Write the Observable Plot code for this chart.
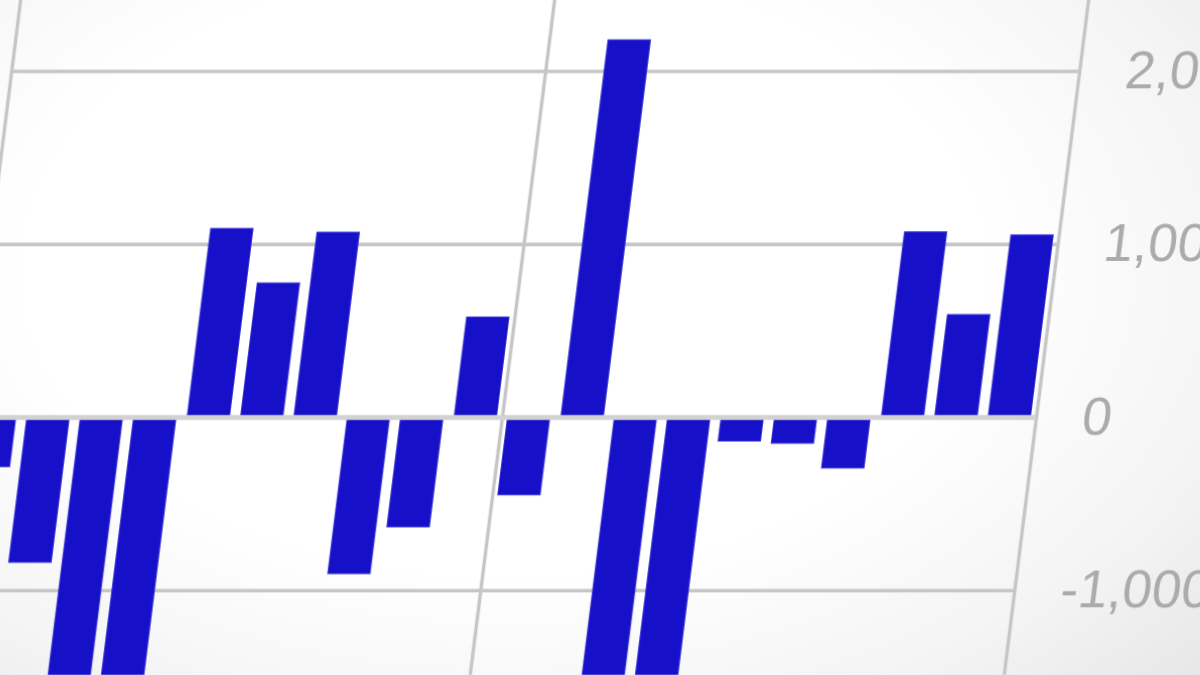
<!DOCTYPE html>
<html>
<head>
<meta charset="utf-8">
<script src="https://cdn.jsdelivr.net/npm/d3@7"></script>
<script src="https://cdn.jsdelivr.net/npm/@observablehq/plot@0.6"></script>
<style>
  html, body { margin: 0; padding: 0; width: 1200px; height: 675px; overflow: hidden; }
  body {
    background: radial-gradient(ellipse 80% 90% at 42% 40%, #ffffff 50%, #f4f4f4 78%, #e6e6e6 100%);
    font-family: "Liberation Sans", Arial, sans-serif;
  }
  #chart {
    position: absolute; left: -60px; top: 0; width: 1320px; height: 675px;
    transform: skewX(-7.13deg); transform-origin: 0 417px;
    filter: blur(0.5px);
  }
  #chart svg { max-width: none; background: transparent; }
</style>
</head>
<body>
<div id="chart"></div>
<script>
// Bar slots (periods) and their values
const periods = [0, 1, 2, 3, 4, 5, 6, 7, 8, 9, 10, 11, 12, 13, 14, 15, 16, 17, 18, 19];
const values  = [-287, -840, -1950, -2150, 1090, 775, 1068, -905, -635, 578,
                 -450, 2180, -2050, -1800, -139, -152, -295, 1070, 592, 1052];
// Axis ticks (visible part of the axis)
const yTicks = [-1000, 0, 1000, 2000];
const groupBoundaries = [0, 10, 20];

const data = periods.map((p, i) => ({period: p, value: values[i]}));
const fmt = d => d.toLocaleString("en-US");

const chart = Plot.plot({
  width: 1320,
  height: 675,
  marginLeft: 28,
  marginRight: 224,
  marginTop: 0,
  marginBottom: 0,
  style: {background: "transparent", maxWidth: "none", fontFamily: "Liberation Sans, Arial, sans-serif"},
  x: {domain: [0, 20], axis: null},
  y: {domain: [-1491, 2410], axis: null},
  marks: [
    Plot.ruleY(yTicks, {stroke: "#c6c6c6", strokeWidth: 3.5}),
    Plot.ruleX(groupBoundaries, {stroke: "#c6c6c6", strokeWidth: 3.5}),
    Plot.rectY(data, {
      x: "period", interval: 1, y: "value",
      fill: "#1610c8", stroke: "#3a34d8", strokeWidth: 1,
      insetLeft: 5.5, insetRight: 5.5, clip: true
    }),
    Plot.ruleY([0], {stroke: "#d2d2d2", strokeWidth: 5}),
    Plot.axisY(yTicks, {
      anchor: "right", tickSize: 0, tickPadding: 46, label: null,
      fontSize: 53, fill: "#ababab", tickFormat: fmt
    })
  ]
});
document.getElementById("chart").appendChild(chart);
</script>
</body>
</html>
